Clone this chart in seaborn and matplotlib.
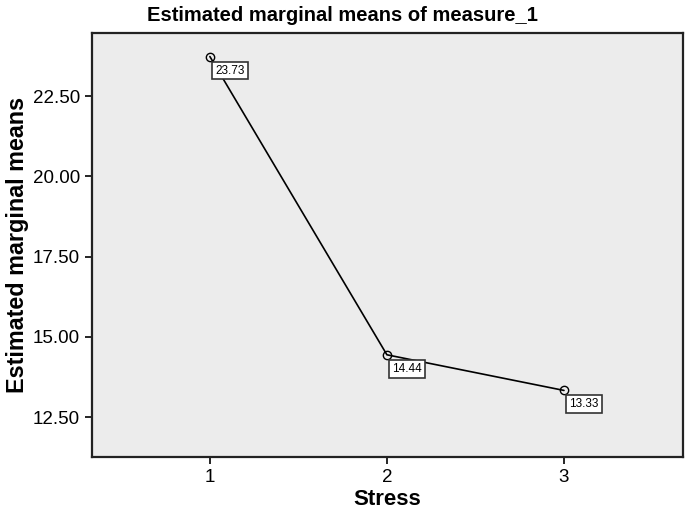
import pandas as pd
import matplotlib
matplotlib.use("Agg")
import matplotlib.pyplot as plt
import seaborn as sns

stress = [1, 2, 3]
means = [23.73, 14.44, 13.33]
yticks = [12.5, 15.0, 17.5, 20.0, 22.5]

df = pd.DataFrame({"Stress": stress, "Mean": means})

sns.set_style("ticks")
plt.rcParams["font.family"] = ["Liberation Sans Narrow", "Liberation Sans", "DejaVu Sans"]
plt.rcParams["text.color"] = "black"
plt.rcParams["axes.labelcolor"] = "black"
plt.rcParams["xtick.color"] = "black"
plt.rcParams["ytick.color"] = "black"

fig = plt.figure(figsize=(6.85, 5.12), dpi=100)
ax = fig.add_axes([0.134, 0.107, 0.863, 0.829])
ax.set_facecolor("#ececec")

sns.lineplot(data=df, x="Stress", y="Mean", ax=ax, color="black", linewidth=1.2,
             marker="o", markersize=6, markerfacecolor="none",
             markeredgecolor="black", markeredgewidth=1.0)

# value labels, boxed, below-right of each point
for x, y in zip(stress, means):
    ax.annotate(f"{y:.2f}", (x, y), xytext=(20, -14), textcoords="offset pixels",
                ha="center", va="center", fontsize=8.5,
                bbox=dict(boxstyle="square,pad=0.25", fc="white", ec="#333333", lw=1.2))

ax.set_xlim(0.333, 3.672)
ax.set_ylim(11.25, 24.47)
ax.set_xticks(stress)
ax.set_yticks(yticks)
ax.set_yticklabels([f"{v:.2f}" for v in yticks])
ax.tick_params(labelsize=13.5, length=5, width=1.2)
for s in ax.spines.values():
    s.set_visible(True)
    s.set_linewidth(1.6)
    s.set_color("#222222")

ax.set_xlabel("Stress", fontsize=16, fontweight="bold", labelpad=2)
ax.set_ylabel("Estimated marginal means", fontsize=16.8, fontweight="bold", labelpad=3)
fig.suptitle("Estimated marginal means of measure_1", x=0.5, y=0.988, va="top",
             fontsize=14.5, fontweight="bold")

fig.savefig("out.png", dpi=100)
